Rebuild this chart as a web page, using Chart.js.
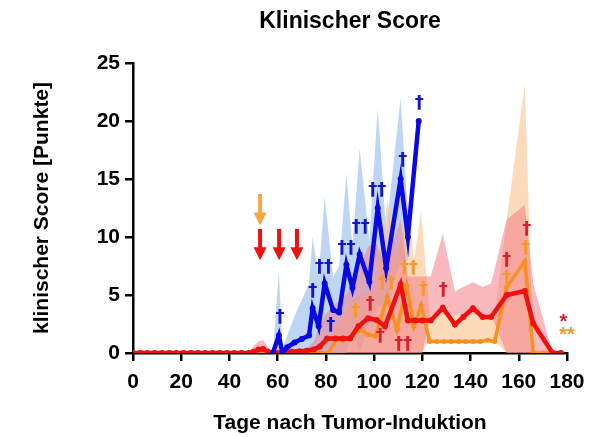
<!DOCTYPE html>
<html>
<head>
<meta charset="utf-8">
<title>Klinischer Score</title>
<script src="https://cdn.jsdelivr.net/npm/chart.js@4.4.0/dist/chart.umd.min.js"></script>
<style>
    html, body { margin: 0; padding: 0; background: #fff; }
    canvas { display: block; }
</style>
</head>
<body>
<canvas id="scoreChart" width="605" height="437"></canvas>
<script>
// Blaue Gruppe (Tage nach Tumor-Induktion, Mittelwert, Streuband)
const blueDays  = [58, 60.5, 62, 64, 67, 70, 73, 74.5, 77, 79.5, 83, 85.5, 88.5, 91, 94, 98, 101.5, 105, 111, 114, 118.5];
const blueScore = [0, 1.5, 0, 0.5, 0.9, 1.2, 1.5, 3.85, 2.3, 6.0, 3.7, 3.5, 7.6, 5.6, 8.5, 6.15, 12.5, 7.3, 15.0, 10.0, 20.0];
const blueUpper = [0, 7.0, 0.4, 1.5, 3.2, 4.6, 6.0, 10.0, 6.6, 13.5, 6.6, 7.5, 15.5, 9.2, 17.6, 9.7, 21.1, 10.5, 22.0, 12.0, 20.0];
const blueLower = [0, 0, 0, 0, 0, 0, 0, 0, 0, 0, 0, 0, 0, 2.0, 0, 2.6, 4.0, 4.1, 8.0, 8.0, 20.0];

// Rote Gruppe
const redDays  = [0, 3, 6, 9, 12, 15, 18, 21, 24, 27, 30, 33, 36, 39, 42, 45, 48, 50, 52, 54, 56, 58, 60, 63, 66, 69, 72, 75, 77.5, 80.5, 84, 87, 90, 93.5, 97.5, 101, 104.5, 111, 114, 117, 120, 123.5, 128.5, 133.5, 137, 141, 145, 148.5, 155, 162.5, 166, 174, 177.5];
const redScore = [0, 0, 0, 0, 0, 0, 0, 0, 0, 0, 0, 0, 0, 0, 0, 0, 0, 0.1, 0.3, 0.35, 0.1, 0, 0, 0, 0.1, 0.15, 0.2, 0.3, 0.55, 1.25, 1.25, 1.25, 1.25, 2.3, 3.0, 2.85, 2.3, 5.9, 2.8, 2.8, 2.8, 2.8, 3.9, 2.45, 3.1, 3.85, 3.1, 3.1, 5.0, 5.35, 2.55, 0, 0];
const redUpper = [0, 0, 0, 0, 0, 0, 0, 0, 0, 0, 0, 0, 0, 0, 0, 0, 0, 0.6, 1.0, 1.1, 0.5, 0, 0, 0, 0.2, 0.3, 0.4, 1.0, 2.5, 3.5, 4.2, 4.8, 5.5, 7.0, 9.2, 9.5, 7.5, 11.5, 6.6, 6.6, 6.6, 6.6, 10.3, 5.3, 5.7, 6.1, 5.7, 6.0, 11.5, 12.75, 6.0, 0, 0];
const redLower = [0, 0, 0, 0, 0, 0, 0, 0, 0, 0, 0, 0, 0, 0, 0, 0, 0, 0, 0, 0, 0, 0, 0, 0, 0, 0, 0, 0, 0, 0, 0, 0, 0, 0, 0, 0, 0, 0, 0, 0, 0, 3.3, 3.3, 3.3, 3.3, 3.3, 3.3, 3.3, 0, 0, 0, 0, 0];

// Orange Gruppe
const orangeDays  = [0, 4, 8, 12, 16, 20, 25, 30, 35, 40, 45, 50, 55, 60, 65, 70, 75, 78, 81, 84, 87, 91, 94.5, 97.5, 100.5, 105.5, 109.5, 113.5, 116.5, 119.5, 123, 126, 129, 132, 135, 138, 141, 144, 147, 150, 155, 162.5, 166, 170, 174];
const orangeScore = [0, 0, 0, 0, 0, 0, 0, 0, 0, 0, 0, 0, 0, 0, 0, 0, 0, 0, 0, 1.1, 1.1, 1.5, 2.0, 1.6, 1.45, 4.8, 2.0, 5.8, 2.3, 4.1, 1.0, 1.0, 1.0, 1.0, 1.0, 1.0, 1.0, 1.0, 1.1, 1.0, 5.7, 7.9, 0, 0, 0];
const orangeUpper = [0, 0, 0, 0, 0, 0, 0, 0, 0, 0, 0, 0, 0, 0, 0, 0, 0, 0, 0, 2.5, 3.0, 4.5, 5.0, 5.0, 6.0, 13.2, 8.0, 13.5, 8.0, 12.2, 3.3, 3.3, 3.3, 3.3, 3.3, 3.3, 3.3, 3.3, 3.3, 3.3, 11.5, 23.2, 0, 0, 0];
const orangeLower = [0, 0, 0, 0, 0, 0, 0, 0, 0, 0, 0, 0, 0, 0, 0, 0, 0, 0, 0, 0, 0, 0, 0, 0, 0, 0, 0, 0, 0, 0, 1.0, 1.0, 1.0, 1.0, 1.0, 1.0, 1.0, 1.0, 1.1, 1.0, 0, 0, 0, 0, 0];

// Kreuze (verstorbene Tiere): Tag, Höhe, Text
const blueCrossDays  = [61, 74.5, 79.2, 82, 88.6, 94.5, 101.3, 111.9, 118.7];
const blueCrossY     = [3.1, 5.3, 7.4, 2.4, 9.0, 10.8, 14.05, 16.6, 21.5];
const blueCrossText  = ['†', '†', '††', '†', '††', '††', '††', '†', '†'];
const orangeCrossDays = [92.3, 105.2, 114.4, 120.4, 155, 162.9];
const orangeCrossY    = [3.6, 6.0, 7.3, 5.5, 6.45, 9.0];
const orangeCrossText = ['†', '††', '††', '†', '†', '†'];
const redCrossDays = [98.4, 102.5, 112.1, 128.7, 155, 163.3];
const redCrossY    = [4.2, 1.4, 0.75, 5.4, 8.0, 10.7];
const redCrossText = ['†', '†', '††', '†', '†', '†'];

// Behandlungspfeile (Tag)
const orangeArrowDays = [52.7];
const redArrowDays = [52.7, 60.6, 68.0];

const xTicks = [0, 20, 40, 60, 80, 100, 120, 140, 160, 180];
const yTicks = [0, 5, 10, 15, 20, 25];

const BLUE = '#0a0ae0';
const RED = '#f01010';
const ORANGE = '#f7901e';
const FONT = 'Liberation Sans, Arial, Helvetica, sans-serif';
const CROSS_FONT = 'DejaVu Sans, Liberation Sans, sans-serif';

function pts(xs, ys) {
    return xs.map((x, i) => ({ x: x, y: ys[i] }));
}

function band(xs, ys, color, fill) {
    return {
        data: pts(xs, ys),
        borderColor: 'rgba(0,0,0,0)',
        borderWidth: 0,
        pointRadius: 0,
        backgroundColor: color,
        fill: fill,
        tension: 0
    };
}

function line(xs, ys, color, width, radius) {
    return {
        data: pts(xs, ys),
        borderColor: color,
        borderWidth: width,
        pointRadius: radius,
        pointBackgroundColor: color,
        pointBorderWidth: 0,
        fill: false,
        tension: 0
    };
}

// Kreuze, Sterne und Pfeile über die Skalen zeichnen
const marksPlugin = {
    id: 'marks',
    afterDatasetsDraw(chart) {
        const ctx = chart.ctx;
        const xs = chart.scales.x;
        const ys = chart.scales.y;
        ctx.save();
        ctx.textAlign = 'center';
        ctx.textBaseline = 'middle';
        ctx.font = 'bold 18px ' + CROSS_FONT;

        function crosses(days, yv, texts, color) {
            ctx.fillStyle = color;
            days.forEach((d, i) => {
                ctx.fillText(texts[i], xs.getPixelForValue(d), ys.getPixelForValue(yv[i]));
            });
        }
        crosses(blueCrossDays, blueCrossY, blueCrossText, '#1414c8');
        crosses(orangeCrossDays, orangeCrossY, orangeCrossText, '#f39a2e');
        crosses(redCrossDays, redCrossY, redCrossText, '#d8202a');

        // Signifikanz-Sterne
        ctx.font = 'bold 20px ' + FONT;
        ctx.fillStyle = '#d8202a';
        ctx.fillText('*', xs.getPixelForValue(178.5), ys.getPixelForValue(2.6));
        ctx.fillStyle = '#f39a2e';
        ctx.fillText('**', xs.getPixelForValue(180), ys.getPixelForValue(1.5));

        function arrow(day, yTop, yBottom, color) {
            const x = xs.getPixelForValue(day);
            const top = ys.getPixelForValue(yTop);
            const bottom = ys.getPixelForValue(yBottom);
            const headH = 13;
            ctx.fillStyle = color;
            ctx.fillRect(x - 2, top, 4, bottom - top - headH + 1);
            ctx.beginPath();
            ctx.moveTo(x - 6.5, bottom - headH);
            ctx.lineTo(x + 6.5, bottom - headH);
            ctx.lineTo(x, bottom);
            ctx.closePath();
            ctx.fill();
        }
        orangeArrowDays.forEach(d => arrow(d, 13.7, 11.0, '#f7a545'));
        redArrowDays.forEach(d => arrow(d, 10.7, 8.0, '#f01010'));
        ctx.restore();
    }
};

const ctx = document.getElementById('scoreChart').getContext('2d');
new Chart(ctx, {
    type: 'line',
    data: {
        datasets: [
            line(blueDays, blueScore, BLUE, 4.5, 3),
            line(redDays, redScore, RED, 4.5, 3),
            line(orangeDays, orangeScore, ORANGE, 3.5, 2.5),
            band(redDays, redUpper, 'rgba(244,120,132,0.52)', '+1'),
            band(redDays, redLower, 'rgba(0,0,0,0)', false),
            band(orangeDays, orangeUpper, 'rgba(250,190,130,0.55)', '+1'),
            band(orangeDays, orangeLower, 'rgba(0,0,0,0)', false),
            band(blueDays, blueUpper, 'rgba(168,200,240,0.75)', '+1'),
            band(blueDays, blueLower, 'rgba(0,0,0,0)', false)
        ]
    },
    options: {
        responsive: false,
        animation: false,
        layout: { padding: { top: 0, right: 38, bottom: 0, left: 0 } },
        plugins: {
            legend: { display: false },
            tooltip: { enabled: false },
            filler: { drawTime: 'beforeDatasetsDraw' },
            title: {
                display: true,
                fullSize: false,
                text: 'Klinischer Score',
                color: '#000',
                font: { family: FONT, size: 23, weight: 'bold' },
                padding: { top: 8, bottom: 27.4 }
            }
        },
        scales: {
            x: {
                type: 'linear',
                min: 0,
                max: 180,
                afterBuildTicks: s => { s.ticks = xTicks.map(v => ({ value: v })); },
                afterFit: s => { s.height = 84; },
                ticks: { color: '#000', padding: 9, font: { family: FONT, size: 21, weight: 'bold' } },
                grid: { drawOnChartArea: false, drawTicks: true, tickLength: 8, color: '#000', lineWidth: 2.5 },
                border: { display: true, color: '#000', width: 2.5 },
                title: {
                    display: true,
                    text: 'Tage nach Tumor-Induktion',
                    color: '#000',
                    font: { family: FONT, size: 21, weight: 'bold' },
                    padding: { top: 0, bottom: 1 }
                }
            },
            y: {
                min: 0,
                max: 25,
                afterBuildTicks: s => { s.ticks = yTicks.map(v => ({ value: v })); },
                afterFit: s => { s.width = 133; },
                ticks: { color: '#000', padding: 5, font: { family: FONT, size: 21, weight: 'bold' } },
                grid: { drawOnChartArea: false, drawTicks: true, tickLength: 8, color: '#000', lineWidth: 2.5 },
                border: { display: true, color: '#000', width: 2.5 },
                title: {
                    display: true,
                    text: 'klinischer Score [Punkte]',
                    color: '#000',
                    font: { family: FONT, size: 21, weight: 'bold' },
                    padding: { top: 30, bottom: 0 }
                }
            }
        }
    },
    plugins: [marksPlugin]
});
</script>
</body>
</html>
